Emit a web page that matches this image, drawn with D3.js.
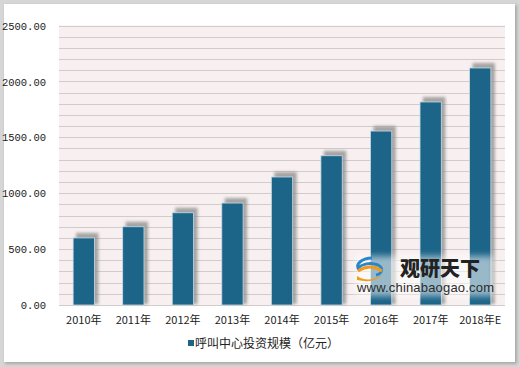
<!DOCTYPE html>
<html><head><meta charset="utf-8">
<script src="https://cdn.jsdelivr.net/npm/d3@7"></script>
<style>html,body{margin:0;padding:0;background:#d6d6d6;}svg{display:block;}</style>
</head><body>
<svg id="c" width="520" height="367"></svg>
<script>
const categories = ["2010年","2011年","2012年","2013年","2014年","2015年","2016年","2017年","2018年E"];
const values = [600, 700, 825, 912, 1145, 1335, 1556, 1816, 2120];
const yTicks = [0, 500, 1000, 1500, 2000, 2500];
const seriesName = "呼叫中心投资规模（亿元）";

const svg = d3.select("#c");
const defs = svg.append("defs");
const f = defs.append("filter").attr("id","sh").attr("x","-50%").attr("y","-50%").attr("width","200%").attr("height","200%");
f.append("feGaussianBlur").attr("stdDeviation",1.8);
const fo = defs.append("filter").attr("id","osh").attr("x","-5%").attr("y","-5%").attr("width","110%").attr("height","110%");
fo.append("feGaussianBlur").attr("stdDeviation",1.5);
const fw = defs.append("filter").attr("id","wb").attr("x","-10%").attr("y","-30%").attr("width","120%").attr("height","160%");
fw.append("feGaussianBlur").attr("stdDeviation",3);

// outer frame
svg.append("rect").attr("x",5).attr("y",5).attr("width",512).attr("height",359).attr("fill","#a8a8a8").attr("filter","url(#osh)");
svg.append("rect").attr("x",4).attr("y",4).attr("width",511).attr("height",358).attr("fill","#ffffff");

const m = {l:59, r:505, t:25.5, b:305};
const x = d3.scaleBand().domain(categories).range([m.l, m.r]).paddingInner(0.57).paddingOuter(0.285);
const y = d3.scaleLinear().domain([0,2500]).range([m.b, m.t]);

svg.append("rect").attr("x",m.l).attr("y",m.t).attr("width",m.r-m.l).attr("height",m.b-m.t).attr("fill","#f8f0f0");

svg.append("g").selectAll("line").data(d3.range(0,2501,100)).join("line")
  .attr("x1",m.l).attr("x2",m.r).attr("y1",d=>Math.round(y(d))+0.5).attr("y2",d=>Math.round(y(d))+0.5)
  .attr("stroke","#d2cbcb").attr("stroke-width",1.2);

// y axis labels
const ya = d3.axisLeft(y).tickValues(yTicks).tickFormat(d3.format(".2f")).tickSize(0).tickPadding(0);
const yg = svg.append("g").attr("transform",`translate(${46},0)`).call(ya);
yg.select(".domain").remove();
yg.selectAll("text").attr("font-family","'Liberation Mono', 'DejaVu Sans Mono', monospace").attr("font-size",10.5).attr("fill","#1a1a1a").attr("dy","0.35em");

// bar shadows
svg.append("g").selectAll("rect").data(values).join("rect")
  .attr("x",(d,i)=>x(categories[i])+3).attr("y",d=>y(d)-5)
  .attr("width",x.bandwidth()+1).attr("height",d=>m.b-y(d)+4)
  .attr("fill","#8a8a8a").attr("opacity",0.75).attr("filter","url(#sh)");
// bars
svg.append("g").selectAll("rect").data(values).join("rect")
  .attr("x",(d,i)=>x(categories[i])).attr("y",d=>y(d))
  .attr("width",x.bandwidth()).attr("height",d=>m.b-y(d))
  .attr("fill","#1c6488").attr("stroke","#c8dce6").attr("stroke-width",0.8);

// x labels
const xa = d3.axisBottom(x).tickSize(0).tickPadding(0);
const xg = svg.append("g").attr("transform",`translate(0,${m.b+15})`).call(xa);
xg.select(".domain").remove();
xg.selectAll("text").attr("font-family","'Noto Sans CJK SC', sans-serif").attr("font-size",11).attr("fill","#222").attr("dy","0.35em");

// legend
svg.append("rect").attr("x",188).attr("y",340).attr("width",6).attr("height",6).attr("fill","#1c6488");
svg.append("text").attr("x",195).attr("y",348).attr("font-family","'Noto Sans CJK SC', sans-serif").attr("font-size",12).attr("fill","#222").text(seriesName);

// watermark
const wm = svg.append("g");
wm.append("rect").attr("x",356).attr("y",256).attr("width",138).attr("height",40).attr("fill","#ffffff").attr("opacity",0.55).attr("filter","url(#wb)");
wm.append("path").attr("d","M372,258 c-10,0 -16,6 -14,10 c4,-4 12,-6 20,-3 c6,3 4,9 -2,10").attr("fill","none").attr("stroke","#2a86c8").attr("stroke-width",3);
wm.append("path").attr("d","M357,276 q12,8 26,-2 q-8,10 -26,6 z").attr("fill","#f39a1a");
wm.append("path").attr("d","M358,271 q12,-8 24,0").attr("fill","none").attr("stroke","#f39a1a").attr("stroke-width",3);
wm.append("text").attr("x",400).attr("y",276).attr("font-family","'Noto Sans CJK SC', sans-serif").attr("font-weight",900).attr("font-size",20).attr("fill","#222").text("观研天下");
wm.append("text").attr("x",357).attr("y",292).attr("font-family","'Liberation Sans', Arial, sans-serif").attr("font-size",13).attr("fill","#2b2b2b").attr("textLength",137).text("www.chinabaogao.com");
</script>
</body></html>
